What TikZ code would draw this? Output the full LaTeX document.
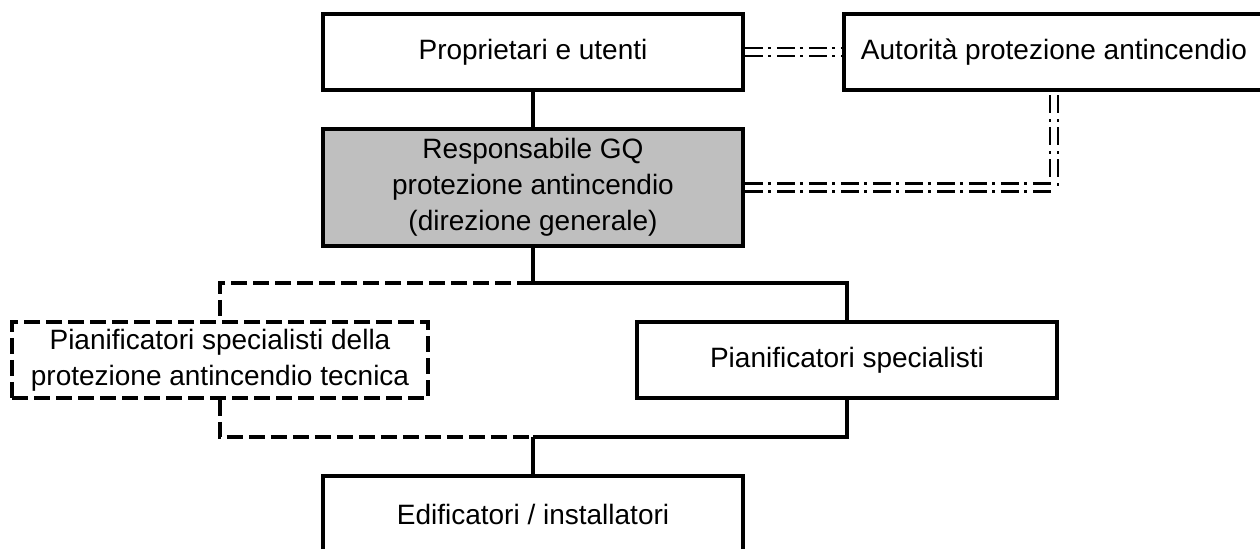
\documentclass[tikz,border=0pt]{standalone}
\usepackage{fontspec}
\setmainfont{Liberation Sans}
\usetikzlibrary{positioning}
\usetikzlibrary{calc}
\tikzset{unit/.style={x=0.5pt, y=-0.5pt}}
\tikzset{box/.style={rectangle, draw, line width=1.8pt, minimum width=210pt, minimum height=38pt, align=center, inner sep=0pt}}
\tikzset{qmbox/.style={box, fill=black!25, minimum height=58.5pt}}
\tikzset{techbox/.style={box, minimum width=208pt, dash pattern=on 8pt off 3pt}}
\tikzset{link/.style={draw, line width=1.8pt}}
\tikzset{optlink/.style={link, dash pattern=on 8pt off 3pt}}
\tikzset{authlink/.style={draw, line width=1.3pt, double, double distance=2.6pt, dash pattern=on 9pt off 2.5pt on 1.5pt off 3pt}}

\begin{document}
\begin{tikzpicture}[unit, font=\fontsize{14pt}{18pt}\selectfont]
    \useasboundingbox (0,0) rectangle (1260,549);
    \clip (0,0) rectangle (1260,549);

    % ------- Top row ------- %
    \node [box] (owners) at (533,52) {Proprietari e utenti};
    \node [box] (auth) at (1054,52) {Autorità protezione antincendio};

    % ------- Quality management ------- %
    \node [qmbox] (qm) at (533,187.5) {Responsabile GQ\\protezione antincendio\\(direzione generale)};

    % ------- Planners ------- %
    \node [techbox] (tech) at (220,360) {Pianificatori specialisti della\\protezione antincendio tecnica};
    \node [box] (spec) at (847,360) {Pianificatori specialisti};

    % ------- Builders ------- %
    \node [box] (build) at (533,514) {Edificatori / installatori};

    % The branch points above and below the planners.
    \coordinate (split) at (533,283);
    \coordinate (join) at (533,437);

    \draw [link] (owners) -- (qm);
    \draw [link] (qm) -- (split);
    \draw [link] (split) -- (split -| spec) -- (spec);
    \draw [optlink] (split) -- (split -| tech) -- (tech);
    \draw [link] (spec) -- (spec |- join) -- (join);
    \draw [optlink] (tech) -- (tech |- join) -- (join);
    \draw [link] (join) -- (build);

    % The links to the fire protection authority.
    \draw [authlink] (owners) -- (auth);
    \draw [authlink] (qm.east) -- (qm.east -| auth) -- (auth.south);
\end{tikzpicture}
\end{document}
